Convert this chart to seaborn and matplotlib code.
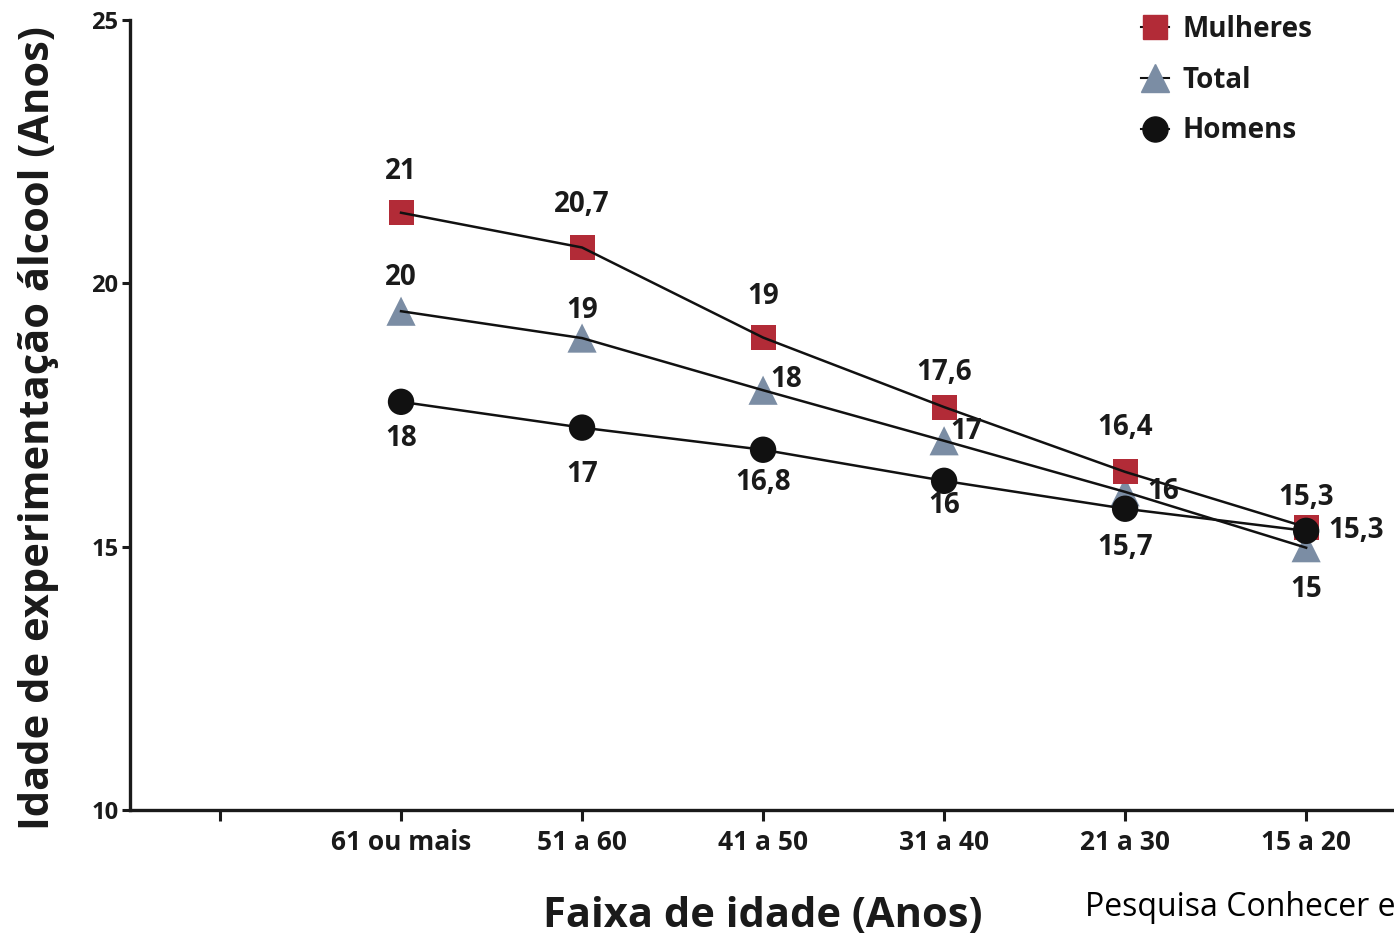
"""Idade de experimentação de álcool por faixa de idade."""

import matplotlib.pyplot as plt
import pandas as pd
import seaborn as sns
from matplotlib.lines import Line2D

plt.switch_backend("Agg")

CATEGORIES = ["", "61 ou mais", "51 a 60", "41 a 50", "31 a 40", "21 a 30", "15 a 20"]
GROUPS = ["61 ou mais", "51 a 60", "41 a 50", "31 a 40", "21 a 30", "15 a 20"]

# posições dos marcadores
MULHERES = [21.34, 20.68, 18.97, 17.65, 16.42, 15.37]
TOTAL = [19.47, 18.96, 17.97, 17.01, 16.04, 14.98]
HOMENS = [17.75, 17.26, 16.84, 16.25, 15.72, 15.30]

# rótulos impressos junto aos pontos
MULHERES_LABELS = ["21", "20,7", "19", "17,6", "16,4", "15,3"]
TOTAL_LABELS = ["20", "19", "18", "17", "16", "15"]
HOMENS_LABELS = ["18", "17", "16,8", "16", "15,7", "15,3"]

Y_TICKS = [10, 15, 20, 25]


def main() -> None:
    font = "Open Sans"
    plt.rcParams["font.family"] = [font, "DejaVu Sans"]

    fig = plt.figure(figsize=(13.94, 9.41), dpi=100)
    ax = fig.add_axes([0.0929, 0.1392, 0.9090, 0.8396])

    pos = [CATEGORIES.index(g) for g in GROUPS]
    df = pd.DataFrame({"pos": pos, "Mulheres": MULHERES, "Total": TOTAL, "Homens": HOMENS})

    series = [
        # name, labels, marker, size, color, zorder, label offsets (px)
        ("Total", TOTAL_LABELS, "^", 21, "#7b8da4", 2,
         [(0, -34), (0, -28), (23, -11), (22, -9), (38, 0), (0, 42)]),
        ("Mulheres", MULHERES_LABELS, "s", 18, "#b22b37", 3,
         [(0, -41), (0, -43), (0, -41), (0, -35), (0, -44), (0, -30)]),
        ("Homens", HOMENS_LABELS, "o", 19, "#111111", 4,
         [(0, 37), (0, 47), (0, 33), (0, 25), (0, 39), (50, 0)]),
    ]

    handles = {}
    for name, labels, marker, size, color, z, offsets in series:
        sns.scatterplot(data=df, x="pos", y=name, ax=ax, marker=marker, s=size**2,
                        color=color, edgecolor="none", linewidth=0, zorder=z)
        sns.lineplot(data=df, x="pos", y=name, ax=ax, color="#111111",
                     linewidth=1.8, zorder=5)
        for x, y, txt, (dx, dy) in zip(df["pos"], df[name], labels, offsets):
            ax.annotate(txt, (x, y), xytext=(dx, -dy), textcoords="offset pixels",
                        ha="center", va="center", fontsize=20, fontweight="bold",
                        color="#1a1a1a", zorder=6)
        handles[name] = Line2D([], [], color="#111111", linewidth=1.5, marker=marker,
                               markersize=size * 0.95, markerfacecolor=color,
                               markeredgecolor=color)

    ax.set_xlim(-0.5, 6.5)
    ax.set_ylim(10, 25)
    ax.set_xticks(range(len(CATEGORIES)))
    ax.set_xticklabels(CATEGORIES, fontsize=19, fontweight="bold")
    ax.set_yticks(Y_TICKS)
    ax.set_yticklabels([str(t) for t in Y_TICKS], fontsize=17, fontweight="bold")
    ax.tick_params(axis="x", length=8, width=2.2, direction="out", pad=6, colors="#1a1a1a")
    ax.tick_params(axis="y", length=6, width=2.2, direction="out", pad=2, colors="#1a1a1a")

    for side in ["top", "right"]:
        ax.spines[side].set_visible(False)
    for side in ["left", "bottom"]:
        ax.spines[side].set_linewidth(2.4)
        ax.spines[side].set_color("#1a1a1a")

    ax.set_xlabel("Faixa de idade (Anos)", fontsize=30, fontweight="bold", color="#1a1a1a")
    ax.xaxis.label.set_va("center")
    ax.xaxis.set_label_coords(0.5, -0.135)
    ax.set_ylabel("Idade de experimentação álcool (Anos)", fontsize=30,
                  fontweight="bold", color="#1a1a1a")
    ax.yaxis.label.set_va("center")
    ax.yaxis.set_label_coords(-0.072, 0.4835)

    order = ["Mulheres", "Total", "Homens"]
    leg = fig.legend([handles[n] for n in order], order, loc="upper left",
                     bbox_to_anchor=(1130 / 1394, 1 - 4 / 941), frameon=False,
                     prop={"family": font, "weight": "bold", "size": 20},
                     handlelength=1.0, handletextpad=0.5, labelspacing=0.78,
                     borderaxespad=0)
    for t in leg.get_texts():
        t.set_color("#1a1a1a")

    fig.text(1085 / 1394, 1 - 908 / 941, "Pesquisa Conhecer e", fontsize=23,
             ha="left", va="center", color="black")

    fig.savefig("out.png", dpi=100)
    plt.close(fig)


if __name__ == "__main__":
    main()
